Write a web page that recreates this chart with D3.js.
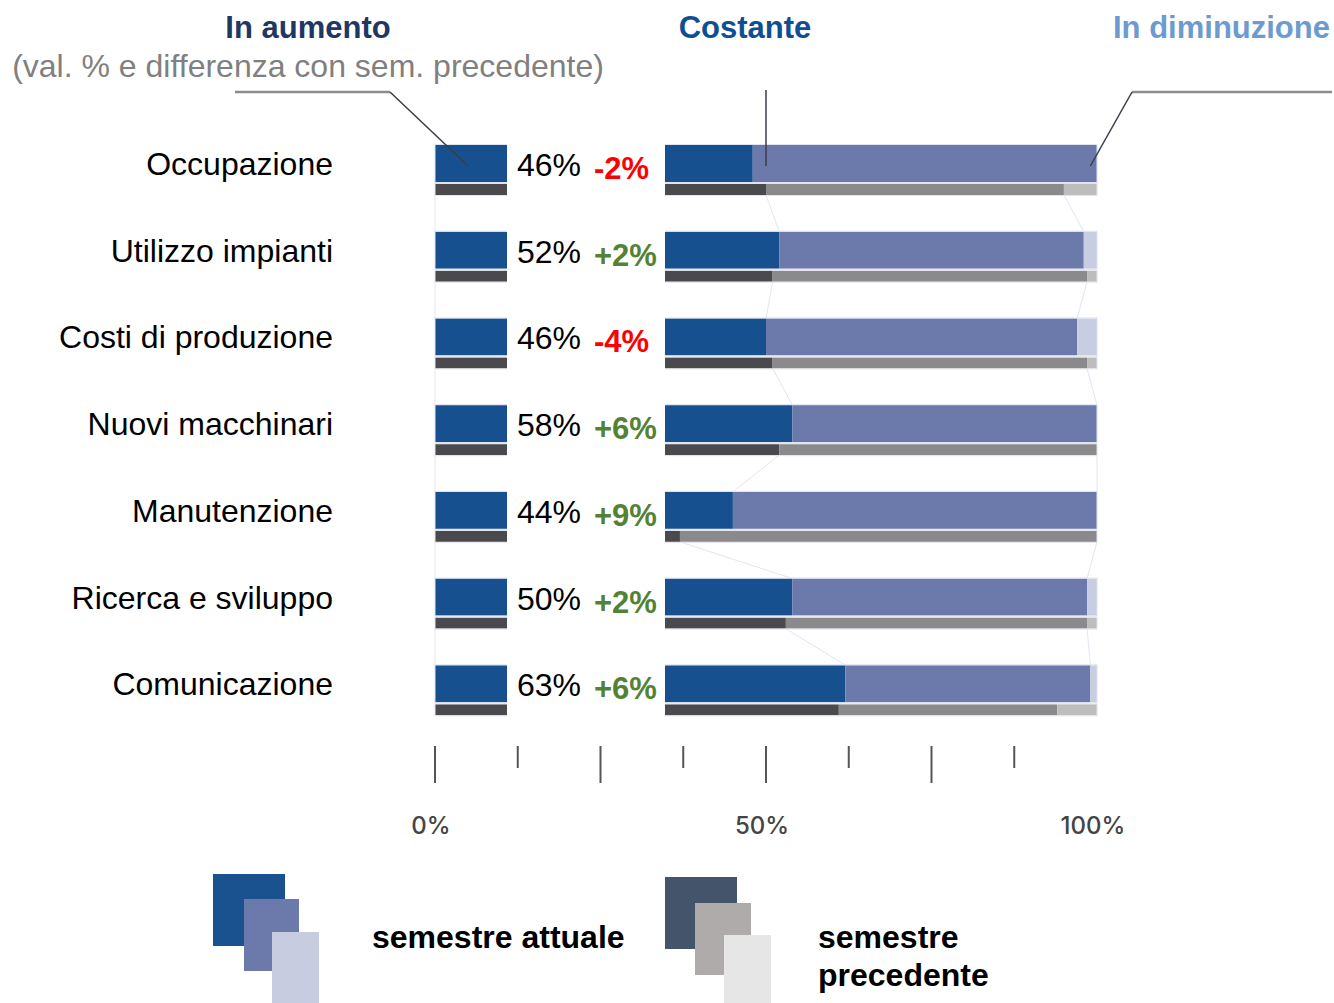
<!DOCTYPE html>
<html>
<head>
<meta charset="utf-8">
<script src="https://cdn.jsdelivr.net/npm/d3@7"></script>
<style>
  body { margin: 0; background: #fff; }
  svg { display: block; font-family: "Liberation Sans", Arial, sans-serif; }
</style>
</head>
<body>
<div id="chart"></div>
<script>
const width = 1334,
  height = 1003;

const categories = [
  "Occupazione",
  "Utilizzo impianti",
  "Costi di produzione",
  "Nuovi macchinari",
  "Manutenzione",
  "Ricerca e sviluppo",
  "Comunicazione",
];
// semestre attuale (in aumento / costante / in diminuzione)
const curUp = [48, 52, 50, 54, 45, 54, 62];
const curFlat = [52, 46, 47, 46, 55, 44.5, 37];
const curDown = [0, 2, 3, 0, 0, 1.5, 1];
// semestre precedente
const prevUp = [50, 51, 51, 52, 37, 53, 61];
const prevFlat = [45, 47.5, 47.5, 48, 63, 45.5, 33];
const prevDown = [5, 1.5, 1.5, 0, 0, 1.5, 6];

const valueLabels = ["46%", "52%", "46%", "58%", "44%", "50%", "63%"];
const diffs = [-2, 2, -4, 6, 9, 2, 6];

const tickValues = [0, 12.5, 25, 37.5, 50, 62.5, 75, 87.5];
const tickLabels = [0, 50, 100];

const curColors = ["#17508e", "#6c7aab", "#c8cde2"];
const prevColors = ["#4a4a4e", "#8a8a8c", "#bdbdbd"];
const legendCur = ["#1a528f", "#6b7aab", "#c7cce0"];
const legendPrev = ["#44546a", "#afabab", "#e6e6e6"];

const x = d3.scaleLinear().domain([0, 100]).range([435, 1097]);
const y = d3.scaleBand().domain(categories).range([145, 752]);

const curH = 37,
  prevOff = 39,
  prevH = 11;

const rows = categories.map((c, i) => {
  const stackIt = (arr) => {
    let acc = 0;
    return arr.map((v, k) => {
      const s = { x0: acc, x1: acc + v, k };
      acc += v;
      return s;
    });
  };
  return {
    c,
    i,
    cur: stackIt([curUp[i], curFlat[i], curDown[i]]),
    prev: stackIt([prevUp[i], prevFlat[i], prevDown[i]]),
  };
});

const svg = d3
  .select("#chart")
  .append("svg")
  .attr("width", width)
  .attr("height", height);

// faint connectors between rows
const conn = svg.append("g").attr("stroke", "#e3e6f1").attr("stroke-width", 1);
for (let i = 0; i < categories.length - 1; i++) {
  const b = [0, prevUp[i], prevUp[i] + prevFlat[i]];
  const t = [0, curUp[i + 1], curUp[i + 1] + curFlat[i + 1]];
  b.forEach((v, k) => {
    conn
      .append("line")
      .attr("x1", x(v))
      .attr("y1", y(categories[i]) + prevOff + prevH)
      .attr("x2", x(t[k]))
      .attr("y2", y(categories[i + 1]));
  });
}

const barG = svg
  .append("g")
  .selectAll("g")
  .data(rows)
  .join("g")
  .attr("transform", (d) => `translate(0,${y(d.c)})`);

barG
  .selectAll("rect.cur")
  .data((d) => d.cur.filter((s) => s.x1 > s.x0))
  .join("rect")
  .attr("class", "cur")
  .attr("x", (s) => x(s.x0))
  .attr("width", (s) => x(s.x1) - x(s.x0))
  .attr("y", 0)
  .attr("height", curH)
  .attr("fill", (s) => curColors[s.k]);

barG
  .selectAll("rect.prev")
  .data((d) => d.prev.filter((s) => s.x1 > s.x0))
  .join("rect")
  .attr("class", "prev")
  .attr("x", (s) => x(s.x0))
  .attr("width", (s) => x(s.x1) - x(s.x0))
  .attr("y", prevOff)
  .attr("height", prevH)
  .attr("fill", (s) => prevColors[s.k]);

// thin light outline round each bar
barG
  .append("rect")
  .attr("x", x(0))
  .attr("width", x(100) - x(0))
  .attr("y", -0.5)
  .attr("height", curH + 1)
  .attr("fill", "none")
  .attr("stroke", "#dfe2ef");
barG
  .append("rect")
  .attr("x", x(0))
  .attr("width", x(100) - x(0))
  .attr("y", prevOff - 0.5)
  .attr("height", prevH + 1)
  .attr("fill", "none")
  .attr("stroke", "#e3e3ea");

// white panel holding value labels
svg
  .append("rect")
  .attr("x", 507)
  .attr("y", 130)
  .attr("width", 665 - 507)
  .attr("height", 600)
  .attr("fill", "#fff");

const labG = svg
  .append("g")
  .selectAll("g")
  .data(rows)
  .join("g")
  .attr("transform", (d) => `translate(0,${y(d.c)})`);

labG
  .append("text")
  .attr("x", 517)
  .attr("y", 31)
  .attr("font-size", 32)
  .attr("fill", "#000")
  .text((d) => valueLabels[d.i]);

labG
  .append("text")
  .attr("x", 594)
  .attr("y", 34)
  .attr("font-size", 31)
  .attr("font-weight", "bold")
  .attr("fill", (d) => (diffs[d.i] < 0 ? "#ff0000" : "#548235"))
  .text((d) => (diffs[d.i] > 0 ? "+" : "") + diffs[d.i] + "%");

labG
  .append("text")
  .attr("x", 333)
  .attr("y", 30)
  .attr("text-anchor", "end")
  .attr("font-size", 32)
  .attr("fill", "#000")
  .text((d) => d.c);

// axis ticks
svg
  .append("g")
  .selectAll("line")
  .data(tickValues)
  .join("line")
  .attr("x1", (d) => x(d))
  .attr("x2", (d) => x(d))
  .attr("y1", 746)
  .attr("y2", (d) => (d % 25 === 0 ? 783 : 768))
  .attr("stroke", "#555")
  .attr("stroke-width", 2);

svg
  .append("g")
  .selectAll("text")
  .data(tickLabels)
  .join("text")
  .attr("x", (d) => x(d) - 4)
  .attr("y", 834)
  .attr("text-anchor", "middle")
  .attr("font-family", "Inter, Lato, sans-serif")
  .attr("font-size", 24)
  .attr("font-weight", 500)
  .attr("fill", "#444")
  .text((d) => d + "%");

// headers
const head = svg.append("g").attr("font-size", 31).attr("font-weight", "bold");
head.append("text").attr("x", 308).attr("y", 38).attr("text-anchor", "middle").attr("fill", "#1f3763").text("In aumento");
head.append("text").attr("x", 745).attr("y", 38).attr("text-anchor", "middle").attr("fill", "#104e94").text("Costante");
head.append("text").attr("x", 1330).attr("y", 38).attr("text-anchor", "end").attr("fill", "#6d9bd0").text("In diminuzione");
svg
  .append("text")
  .attr("x", 308)
  .attr("y", 77)
  .attr("text-anchor", "middle")
  .attr("font-size", 32)
  .attr("fill", "#808080")
  .text("(val. % e differenza con sem. precedente)");

// leader lines pointing into first row
const ptY = y(categories[0]) + 21;
const lead = svg.append("g").attr("fill", "none");
lead.append("path").attr("d", `M235,92H390`).attr("stroke", "#8c8c8c").attr("stroke-width", 2.5);
lead.append("path").attr("d", `M390,92L${x(5)},${ptY}`).attr("stroke", "#3a3d4a").attr("stroke-width", 1.5);
lead.append("path").attr("d", `M${x(50)},90V${ptY}`).attr("stroke", "#3a3d4a").attr("stroke-width", 1.5);
lead.append("path").attr("d", `M1332,92H1132`).attr("stroke", "#8c8c8c").attr("stroke-width", 2.5);
lead.append("path").attr("d", `M1132,92L${x(99)},${ptY}`).attr("stroke", "#3a3d4a").attr("stroke-width", 1.5);

// legend
const legend = svg.append("g");
const curBoxes = [
  [213, 874, 72, 72],
  [244, 899, 55, 72],
  [272, 932, 47, 72],
];
const prevBoxes = [
  [665, 877, 72, 72],
  [695, 903, 56, 72],
  [724, 935, 47, 72],
];
legend
  .selectAll("rect.c")
  .data(curBoxes)
  .join("rect")
  .attr("class", "c")
  .attr("x", (d) => d[0])
  .attr("y", (d) => d[1])
  .attr("width", (d) => d[2])
  .attr("height", (d) => d[3])
  .attr("fill", (d, i) => legendCur[i]);
legend
  .selectAll("rect.p")
  .data(prevBoxes)
  .join("rect")
  .attr("class", "p")
  .attr("x", (d) => d[0])
  .attr("y", (d) => d[1])
  .attr("width", (d) => d[2])
  .attr("height", (d) => d[3])
  .attr("fill", (d, i) => legendPrev[i]);

const lt = legend.append("g").attr("font-size", 32).attr("font-weight", "bold").attr("fill", "#000");
lt.append("text").attr("x", 372).attr("y", 948).text("semestre attuale");
lt.append("text").attr("x", 818).attr("y", 948).text("semestre");
lt.append("text").attr("x", 818).attr("y", 986).text("precedente");
</script>
</body>
</html>
